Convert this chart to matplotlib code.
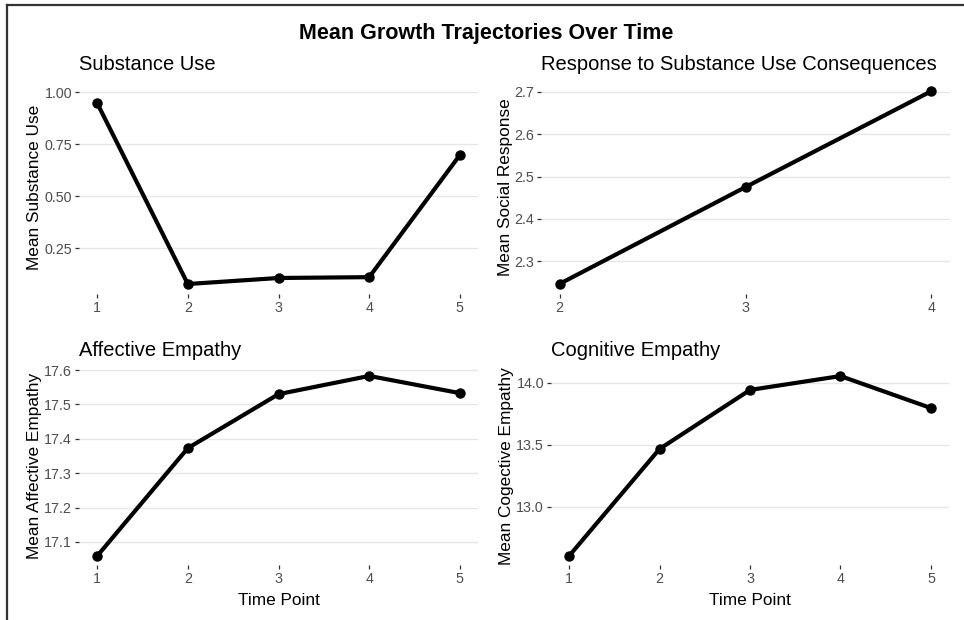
import numpy as np
import matplotlib
matplotlib.use("Agg")
import matplotlib.pyplot as plt
from matplotlib.lines import Line2D

plt.rcParams['font.family'] = ['Liberation Sans', 'DejaVu Sans']

# data
time_su = [1, 2, 3, 4, 5]
substance_use = [0.947, 0.077, 0.106, 0.110, 0.697]

time_resp = [2, 3, 4]
social_response = [2.246, 2.475, 2.702]

time_ae = [1, 2, 3, 4, 5]
affective_empathy = [17.059, 17.373, 17.530, 17.583, 17.533]

time_ce = [1, 2, 3, 4, 5]
cognitive_empathy = [12.605, 13.468, 13.944, 14.056, 13.798]

W, H = 964, 620
fig = plt.figure(figsize=(W / 100, H / 100), dpi=100)


def px_axes(left, right, top, bottom):
    return fig.add_axes([left / W, 1 - bottom / H, (right - left) / W, (bottom - top) / H])


panels = [
    # (x, y, title, ylabel, box, xlim, ylim, yticks, fmt, xlabel)
    (time_su, substance_use, 'Substance Use', 'Mean Substance Use',
     (79, 478, 81, 294), (0.8, 5.2), (0.029, 1.053), [0.25, 0.50, 0.75, 1.00], '{:.2f}', None),
    (time_resp, social_response, 'Response to Substance Use Consequences', 'Mean Social Response',
     (541, 950, 81, 294), (1.9, 4.1), (2.222, 2.726), [2.3, 2.4, 2.5, 2.6, 2.7], '{:.1f}', None),
    (time_ae, affective_empathy, 'Affective Empathy', 'Mean Affective Empathy',
     (79, 478, 367, 565), (0.8, 5.2), (17.033, 17.609), [17.1, 17.2, 17.3, 17.4, 17.5, 17.6], '{:.1f}', 'Time Point'),
    (time_ce, cognitive_empathy, 'Cognitive Empathy', 'Mean Cogective Empathy',
     (551, 949, 367, 565), (0.8, 5.2), (12.532, 14.129), [13.0, 13.5, 14.0], '{:.1f}', 'Time Point'),
]

# right edge (in px) of each rotated y label
ylabel_x = [42, 513, 42, 514]

for i, (x, y, title, ylab, box, xl, yl, yt, fmt, xlab) in enumerate(panels):
    ax = px_axes(*box)
    ax.plot(x, y, color='black', lw=3.0, marker='o', ms=6.5, solid_capstyle='round')
    ax.set_xlim(*xl)
    ax.set_ylim(*yl)
    ax.set_xticks(x)
    ax.set_xticklabels([str(v) for v in x])
    ax.set_yticks(yt)
    ax.set_yticklabels([fmt.format(v) for v in yt])
    ax.grid(axis='y', color='#E6E6E6', lw=1.0)
    ax.set_axisbelow(True)
    for s in ax.spines.values():
        s.set_visible(False)
    ax.tick_params(axis='both', length=3, width=0.9, color='#333333',
                   labelcolor='#4D4D4D', labelsize=10.3, pad=2)
    ax.set_title(title, loc='left', fontsize=14.5, pad=8, color='black')
    ax.set_ylabel(ylab, fontsize=12.4, color='black')
    left = box[0]
    ax.yaxis.set_label_coords((ylabel_x[i] - left) / (box[1] - left), 0.5)
    if xlab:
        ax.set_xlabel(xlab, fontsize=12.4, color='black', labelpad=5)

fig.text(486.5 / W, 1 - 33 / H, 'Mean Growth Trajectories Over Time',
         ha='center', va='center', fontsize=15.5, fontweight='bold')

# frame lines on the top and left edges
fig.add_artist(Line2D([7 / W, 7 / W], [0, 1 - 5 / H], transform=fig.transFigure,
                      color='#333333', lw=1.6))
fig.add_artist(Line2D([7 / W, 1], [1 - 5 / H, 1 - 5 / H], transform=fig.transFigure,
                      color='#333333', lw=1.6))

fig.savefig('out.png', dpi=100)
